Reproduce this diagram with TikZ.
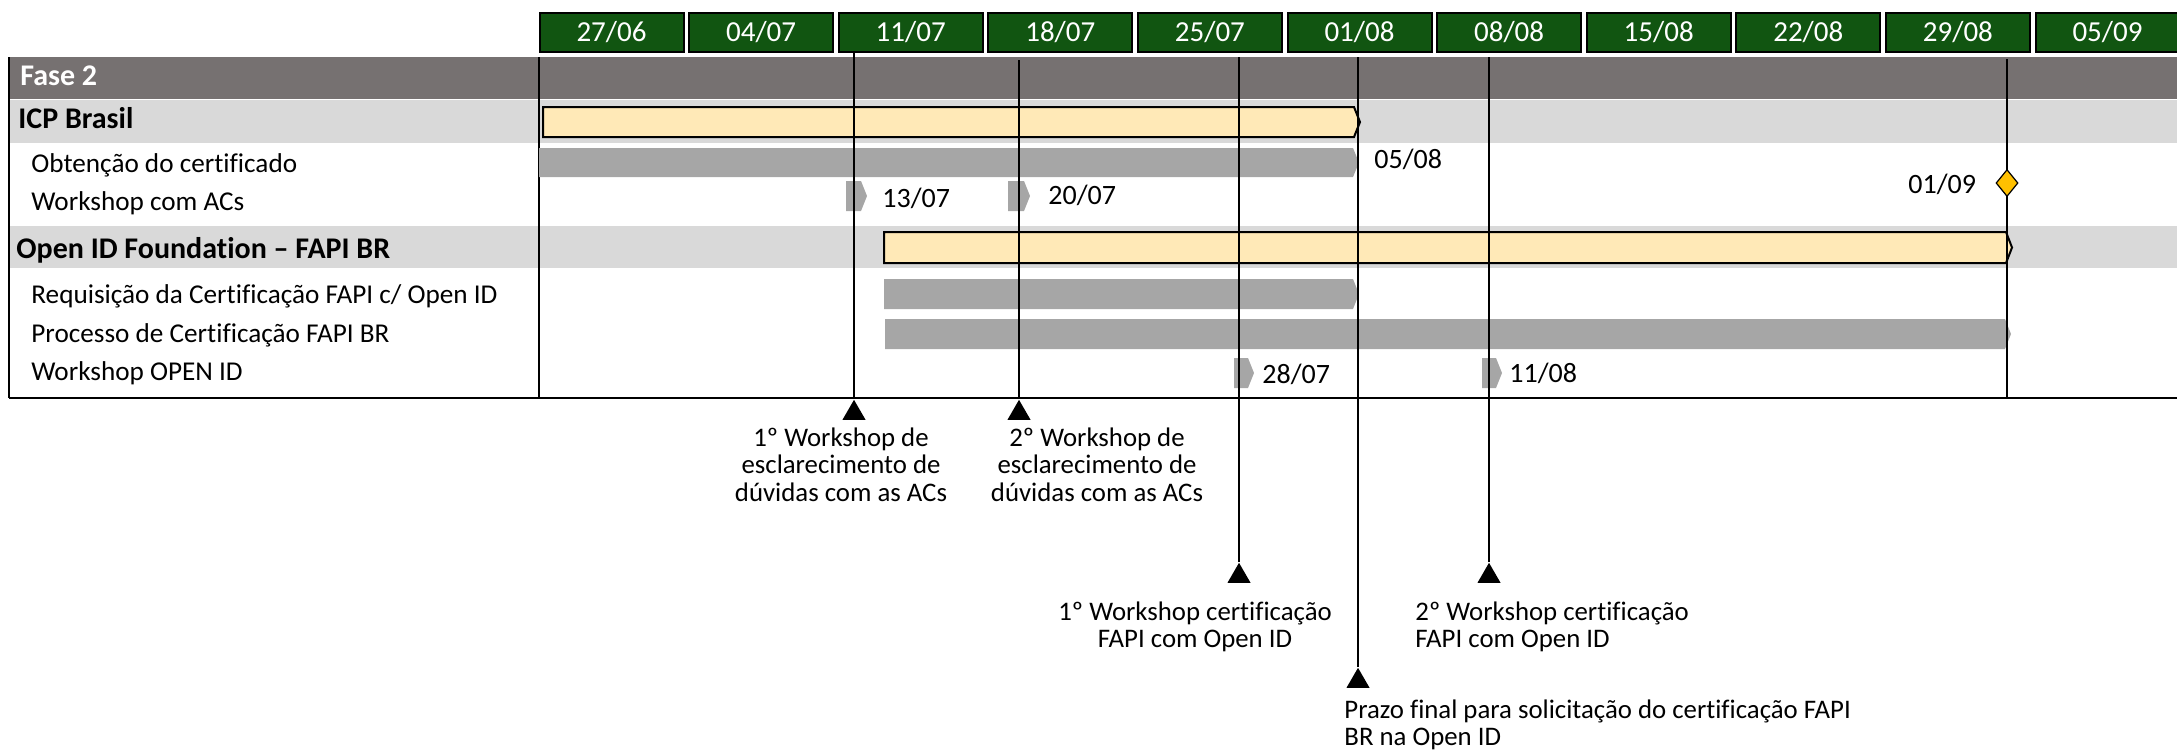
\documentclass[tikz,border=0pt]{standalone}
\usepackage{fontspec}
\setmainfont{Carlito}[Ligatures=NoCommon]
\usetikzlibrary{shapes.geometric}

\definecolor{weekgreen}{RGB}{17,85,17}
\definecolor{phasegray}{RGB}{118,113,113}
\definecolor{groupgray}{RGB}{217,217,217}
\definecolor{taskgray}{RGB}{166,166,166}
\definecolor{sumyellow}{RGB}{255,233,183}
\definecolor{mileorange}{RGB}{255,192,0}

\newcommand{\taskbar}[5]{%
  \fill[#5] (#1,#2) -- (#3-6,#2) -- (#3,{(#2+#4)/2}) -- (#3-6,#4) -- (#1,#4) -- cycle;}

\begin{document}
\begin{tikzpicture}[x=0.5pt,y=-0.5pt,
    week/.style={draw=black, line width=1pt, fill=weekgreen, text=white,
      minimum width=72pt, minimum height=19.5pt, inner sep=0pt,
      font=\fontsize{14.5}{16}\selectfont},
    grouptext/.style={anchor=base west, inner sep=0pt,
      font=\fontsize{15}{16}\selectfont\bfseries},
    rowtext/.style={anchor=base west, inner sep=0pt,
      font=\fontsize{13.6}{15}\selectfont},
    datetext/.style={anchor=base west, inner sep=0pt,
      font=\fontsize{14}{16}\selectfont},
    note/.style={align=center, anchor=north, inner sep=0pt,
      font=\fontsize{13.4}{13.8}\selectfont},
    marker/.style={regular polygon, regular polygon sides=3, fill=black,
      inner sep=0pt, minimum size=13.3pt, anchor=corner 1},
    milestone/.style={diamond, draw=black, fill=mileorange, line width=0.6pt,
      inner sep=0pt, minimum width=11pt, minimum height=13.5pt},
    guide/.style={line width=0.75pt}]
  \def\weekstep{149.6}

  \clip (0,0) rectangle (2177,752);

  \fill[phasegray] (9,57) rectangle (2177,99);
  \fill[groupgray] (9,100) rectangle (2177,143);
  \fill[groupgray] (9,226) rectangle (2177,268);
  \draw[guide] (9,57) -- (9,398);
  \draw[guide] (539,57) -- (539,398);
  \draw[line width=1pt] (9,398) -- (2177,398);

  \foreach \wk [count=\i from 0] in {27/06,04/07,11/07,18/07,25/07,01/08,08/08,15/08,22/08,29/08,05/09}
    \node[week] (w\i) at ({611.5+\weekstep*\i},32) {\wk};

  \node[grouptext, text=white] (fase) at (20,85) {Fase 2};
  \node[grouptext] (icp) at (18,128) {ICP Brasil};
  \node[rowtext] (obt) at (31,172) {Obtenção do certificado};
  \node[rowtext] (wsac) at (31,210) {Workshop com ACs};
  \node[grouptext] (oidf) at (16,258) {Open ID Foundation – FAPI BR};
  \node[rowtext] (req) at (31,303) {Requisição da Certificação FAPI c/ Open ID};
  \node[rowtext] (proc) at (31,342) {Processo de Certificação FAPI BR};
  \node[rowtext] (wsoid) at (31,380) {Workshop OPEN ID};

  \taskbar{543}{107}{1360}{137}{sumyellow}
  \draw[line width=1pt] (543,107) -- (1354,107) -- (1360,122) -- (1354,137) -- (543,137) -- cycle;
  \taskbar{539}{148}{1359}{177}{taskgray}
  \taskbar{846}{181}{867}{211}{taskgray}
  \taskbar{1008}{181}{1030}{211}{taskgray}
  \taskbar{884}{232}{2012}{263}{sumyellow}
  \draw[line width=1pt] (884,232) -- (2006,232) -- (2012,247.5) -- (2006,263) -- (884,263) -- cycle;
  \taskbar{884}{279}{1359}{309}{taskgray}
  \taskbar{885}{319}{2011}{349}{taskgray}
  \taskbar{1234}{358}{1254}{388}{taskgray}
  \taskbar{1482}{358}{1502}{388}{taskgray}

  \node[datetext] (d0508) at (1374,168) {05/08};
  \node[datetext] (d1307) at (882,207) {13/07};
  \node[datetext] (d2007) at (1048,204) {20/07};
  \node[datetext] (d2807) at (1262,383) {28/07};
  \node[datetext] (d1108) at (1509,382) {11/08};
  \node[datetext] (d0109) at (1908,193) {01/09};

  \coordinate (top1) at (854,52);
  \coordinate (top2) at (1019,60);
  \coordinate (top3) at (1239,57);
  \coordinate (top4) at (1358,57);
  \coordinate (top5) at (1489,57);
  \coordinate (top6) at (2007,59);
  \coordinate (end6) at (2007,398);

  \node[marker] (m1) at (854,399) {};
  \node[marker] (m2) at (1019,399) {};
  \node[marker] (m3) at (1239,562) {};
  \node[marker] (m4) at (1358,667) {};
  \node[marker] (m5) at (1489,562) {};

  \draw[guide] (m1.corner 1) -- (top1);
  \draw[guide] (m2.corner 1) -- (top2);
  \draw[guide] (m3.corner 1) -- (top3);
  \draw[guide] (m4.corner 1) -- (top4);
  \draw[guide] (m5.corner 1) -- (top5);
  \draw[guide] (top6) -- (end6);

  \node[milestone] (ms) at (2007,183) {};

  \node[note] (n1) at (841,427) {1º Workshop de\\esclarecimento de\\dúvidas com as ACs};
  \node[note] (n2) at (1097,427) {2º Workshop de\\esclarecimento de\\dúvidas com as ACs};
  \node[note] (n3) at (1195,601) {1º Workshop certificação\\FAPI com Open ID};
  \node[note, align=left, anchor=north west] (n4) at (1415,601) {2º Workshop certificação\\FAPI com Open ID};
  \node[note, align=left, anchor=north west] (n5) at (1344,699) {Prazo final para solicitação do certificação FAPI\\BR na Open ID};
\end{tikzpicture}
\end{document}
